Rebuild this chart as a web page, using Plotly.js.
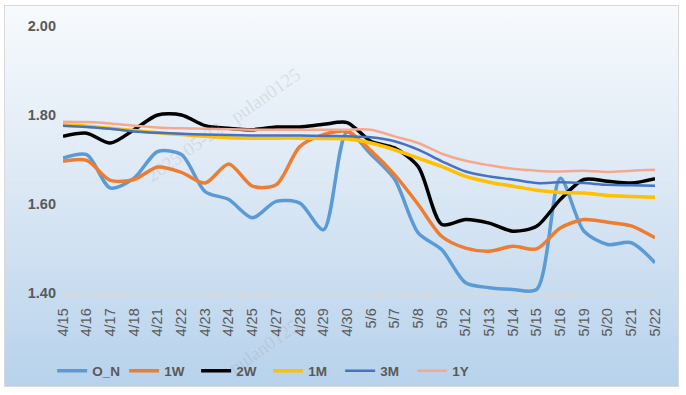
<!DOCTYPE html>
<html><head><meta charset="utf-8">
<script src="https://cdn.plot.ly/plotly-3.0.1.min.js"></script>
<style>
html,body{margin:0;padding:0;background:#fff;width:686px;height:395px;overflow:hidden}
#frame{position:absolute;left:4px;top:5px;width:673px;height:380px;border:1px solid #D9D9D9;
background:linear-gradient(to bottom,#F7FAFD 0%,#DDE9F5 45%,#B7D2EC 100%)}
#chart{position:absolute;left:0;top:0;width:686px;height:395px}
</style></head>
<body><div id="frame"></div><div id="chart"></div>
<script>
const dates = ["4/15","4/16","4/17","4/18","4/21","4/22","4/23","4/24","4/25","4/27","4/28","4/29","4/30","5/6","5/7","5/8","5/9","5/12","5/13","5/14","5/15","5/16","5/19","5/20","5/21","5/22"];
const ON  = [1.703,1.711,1.636,1.658,1.718,1.711,1.628,1.610,1.569,1.606,1.602,1.542,1.762,1.712,1.656,1.535,1.497,1.423,1.412,1.408,1.408,1.658,1.539,1.509,1.513,1.468];
const W1  = [1.696,1.698,1.653,1.655,1.683,1.671,1.647,1.690,1.640,1.643,1.729,1.756,1.763,1.720,1.666,1.599,1.527,1.501,1.494,1.505,1.499,1.546,1.565,1.559,1.551,1.524];
const W2  = [1.752,1.759,1.737,1.767,1.800,1.800,1.776,1.770,1.767,1.773,1.773,1.779,1.783,1.741,1.726,1.684,1.554,1.565,1.557,1.539,1.550,1.610,1.655,1.651,1.647,1.657];
const M1  = [1.778,1.775,1.770,1.765,1.760,1.756,1.752,1.749,1.748,1.748,1.748,1.747,1.746,1.737,1.722,1.703,1.684,1.662,1.649,1.640,1.631,1.626,1.625,1.619,1.617,1.615];
const M3  = [1.776,1.773,1.769,1.763,1.760,1.758,1.756,1.755,1.754,1.754,1.754,1.753,1.752,1.750,1.741,1.722,1.696,1.673,1.662,1.655,1.647,1.649,1.647,1.643,1.642,1.641];
const Y1  = [1.785,1.784,1.781,1.776,1.772,1.770,1.769,1.768,1.767,1.767,1.767,1.767,1.767,1.767,1.752,1.737,1.713,1.697,1.687,1.679,1.675,1.673,1.675,1.672,1.675,1.677];
const names = ["O_N","1W","2W","1M","3M","1Y"];
const colors = ["#5B9BD5","#ED7D31","#000000","#FFC000","#4472C4","#F4A98F"];
const widths = [3.5,3.5,3.5,3.5,2.5,2.5];
const series = [ON,W1,W2,M1,M3,Y1];
const traces = series.map((s,i)=>({x:dates,y:s,name:names[i],type:"scatter",mode:"lines",
  line:{color:colors[i],width:widths[i],shape:"spline",smoothing:0.8}}));
const layout = {
  width:686,height:395,
  margin:{l:63,r:31,t:26,b:101.5,autoexpand:false},
  paper_bgcolor:"rgba(0,0,0,0)",plot_bgcolor:"rgba(0,0,0,0)",
  font:{family:"Liberation Sans, Arial, sans-serif",color:"#595959",size:12},
  xaxis:{type:"category",tickangle:-90,showgrid:false,showline:true,linecolor:"#D9D9D9",linewidth:1.5,
    ticks:"outside",tickson:"boundaries",ticklen:5,tickcolor:"#D9D9D9",ticklabelstandoff:8,automargin:false,
    tickfont:{size:14.5,color:"#595959"},zeroline:false},
  yaxis:{range:[1.4,2.0],tickvals:[1.4,1.6,1.8,2.0],ticktext:["1.40","1.60","1.80","2.00"],automargin:false,
    showgrid:false,zeroline:false,showline:false,ticks:"",ticklabelstandoff:6,
    tickfont:{size:14.5,color:"#595959",family:"Liberation Sans, Arial, sans-serif",weight:"bold"}},
  legend:{orientation:"h",xref:"container",x:0.076,xanchor:"left",yref:"container",y:0.061,yanchor:"middle",
    font:{size:13.5,color:"#595959",weight:"bold"},entrywidth:27,entrywidthmode:"pixels",
    itemwidth:30,bgcolor:"rgba(0,0,0,0)"},
  showlegend:true,
  annotations:[
    {text:"2025-05-22   pulan0125",xref:"paper",yref:"paper",x:0.13,y:0.63,showarrow:false,textangle:-35,
     font:{size:19,color:"rgba(150,150,150,0.22)",family:"Liberation Serif, serif"}},
    {text:"pulan0125",xref:"paper",yref:"paper",x:0.34,y:-0.33,showarrow:false,textangle:-35,
     font:{size:19,color:"rgba(150,150,150,0.22)",family:"Liberation Serif, serif"}}
  ]
};
Plotly.newPlot("chart",traces,layout,{displayModeBar:false,staticPlot:true});
</script></body></html>
